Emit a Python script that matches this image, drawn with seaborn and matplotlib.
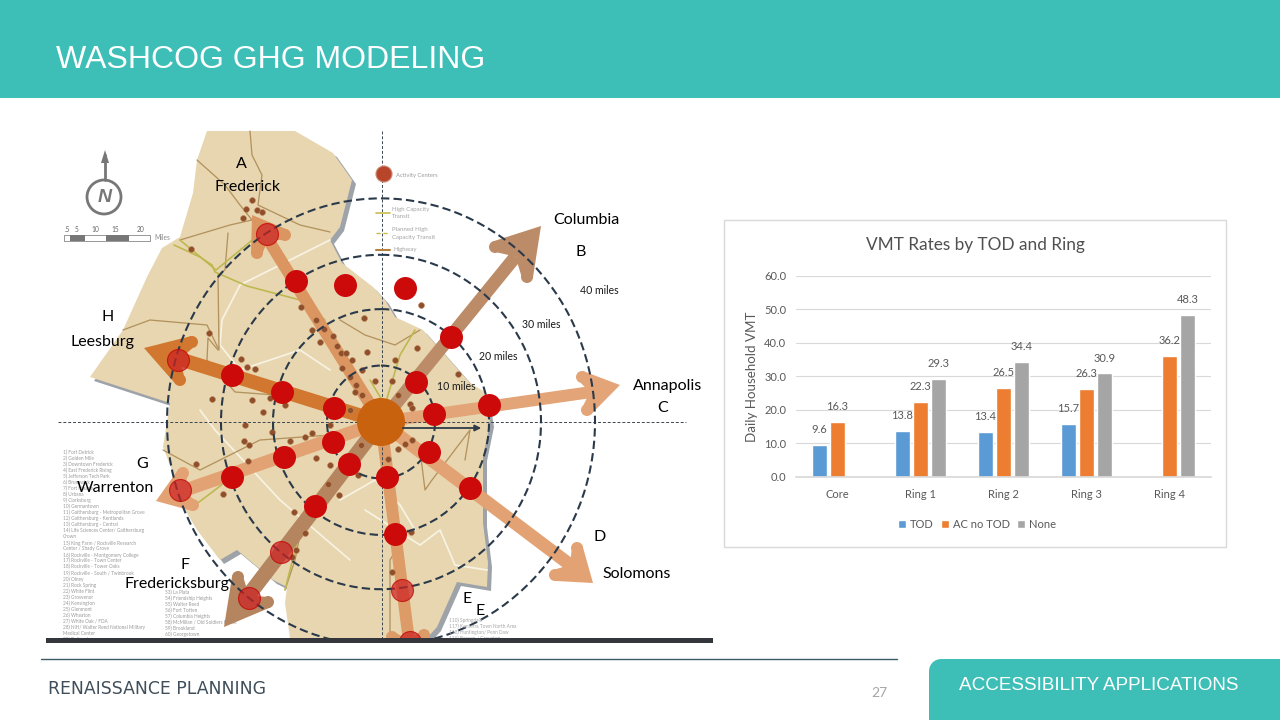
"""
Slide recreation: WashCOG GHG modeling, ring map plus VMT bar chart.
Map layer is drawn in pixel coordinates, the chart is a seaborn barplot.
"""

import numpy as np
import pandas as pd
import matplotlib
matplotlib.use("Agg")
import matplotlib.pyplot as plt
from matplotlib.patches import Circle, Ellipse, Polygon, Rectangle, FancyBboxPatch
import seaborn as sns

# Chart data
RINGS = ["Core", "Ring 1", "Ring 2", "Ring 3", "Ring 4"]
TOD = [9.6, 13.8, 13.4, 15.7, np.nan]
AC_NO_TOD = [16.3, 22.3, 26.5, 26.3, 36.2]
NONE = [np.nan, 29.3, 34.4, 30.9, 48.3]
SERIES_COLORS = ["#5B9BD5", "#ED7D31", "#A5A5A5"]

# Map shapes (image pixels)
LAND = [(207, 131), (295, 131), (333, 153), (352, 180), (340, 227), (330, 240), (342, 263),
        (373, 287), (385, 300), (395, 317), (423, 330), (447, 357), (470, 383), (485, 392),
        (490, 423), (483, 457), (483, 487), (483, 523), (488, 563), (487, 587), (457, 582),
        (437, 627), (427, 638), (290, 638), (285, 603), (287, 587), (273, 580), (237, 550),
        (220, 560), (197, 530), (187, 513), (173, 473), (163, 447), (170, 403), (90, 377),
        (123, 330), (147, 277), (162, 248), (180, 237), (193, 193), (197, 160)]
RING_RADII = [54, 108, 160, 214]
CENTER = (381, 422)
ARROWS = [  # tip, barb 1, barb 2, colour, shaft width
    ((252, 215), (257, 253), (285, 235), "#DB9560", 12),
    ((541, 226), (495, 247), (527, 277), "#BC8C68", 13),
    ((620, 385), (582, 377), (587, 410), "#E3A478", 12),
    ((593, 583), (577, 548), (555, 575), "#E3A273", 13),
    ((414, 665), (392, 637), (424, 635), "#DD9B68", 12),
    ((224, 627), (238, 577), (268, 602), "#B5855F", 15),
    ((156, 501), (183, 473), (193, 505), "#E3A273", 13),
    ((144, 348), (192, 342), (180, 380), "#D2772F", 14),
]
RED_SOLID = [(296, 281), (345, 285), (405, 288), (232, 375), (282, 392), (334, 408),
             (416, 382), (451, 337), (434, 414), (489, 405), (333, 442), (284, 457),
             (232, 477), (349, 464), (315, 506), (387, 477), (429, 452), (470, 488),
             (395, 534)]
RED_FADED = [(267, 234), (178, 360), (180, 490), (281, 552), (249, 598), (402, 590), (410, 642)]
SMALL_DOTS = [(252, 200), (246, 209), (257, 210), (243, 218), (262, 212), (191, 249), (209, 333),
              (301, 307), (316, 320), (324, 329), (312, 330), (333, 336), (320, 342), (337, 346),
              (364, 318), (367, 352), (341, 353), (352, 360), (342, 368), (362, 370), (241, 359),
              (247, 367), (255, 369), (212, 399), (252, 400), (263, 412), (270, 398), (285, 405),
              (245, 425), (244, 441), (249, 445), (248, 461), (272, 432), (305, 437), (312, 433),
              (196, 464), (223, 494), (290, 441), (330, 425), (316, 458), (330, 465), (361, 445),
              (358, 475), (328, 484), (339, 495), (294, 512), (305, 533), (292, 557), (296, 550),
              (412, 440), (405, 444), (398, 449), (388, 459), (411, 532), (392, 572), (421, 305),
              (417, 348), (395, 360), (458, 374), (392, 381), (375, 381), (355, 392), (398, 395),
              (410, 404), (412, 408), (350, 410), (346, 353), (350, 377), (356, 385), (362, 395)]
ROADS = [
    [(250, 131), (252, 155), (262, 175), (258, 205), (300, 225), (330, 232)],
    [(197, 160), (225, 185), (240, 205), (252, 220), (230, 225), (180, 240)],
    [(228, 233), (225, 270), (218, 275), (219, 350), (207, 325), (150, 320), (123, 330)],
    [(218, 350), (208, 338), (207, 360), (235, 392), (275, 395), (320, 405)],
    [(340, 320), (365, 335), (395, 345), (420, 330)],
    [(163, 450), (200, 470), (260, 440), (330, 435), (360, 430)],
    [(420, 450), (425, 490), (432, 480), (470, 430), (465, 460)],
    [(408, 530), (390, 560), (390, 635)],
    [(303, 520), (295, 560), (285, 590)],
]
WHITE_ROADS = [
    [(330, 240), (240, 285), (222, 320), (220, 345), (240, 370), (300, 350), (330, 370)],
    [(200, 410), (215, 430), (280, 500), (350, 560)],
    [(365, 510), (420, 545), (440, 530), (455, 565), (487, 570)],
    [(340, 500), (375, 480), (400, 505), (415, 530)],
]
TRANSIT = [
    [(174, 245), (200, 257), (212, 265), (215, 272), (247, 286), (300, 300), (325, 320)],
    [(180, 240), (216, 270), (256, 237)],
    [(415, 330), (400, 355), (385, 405), (370, 380)],
    [(195, 505), (215, 490), (240, 470)],
    [(300, 530), (290, 570), (285, 590)],
]

# Map labels: text, x, y
CITY_LABELS = [("A", 241, 164), ("Frederick", 248, 187), ("Columbia", 586, 220), ("B", 581, 252),
               ("Annapolis", 668, 386), ("C", 663, 408), ("D", 600, 537), ("Solomons", 637, 574),
               ("E", 467, 599), ("E", 480, 611), ("F", 185, 565), ("Fredericksburg", 177, 584),
               ("G", 142, 464), ("Warrenton", 115, 488), ("H", 108, 317), ("Leesburg", 102, 342)]
MILE_LABELS = [("10 miles", 456, 386), ("20 miles", 498, 357), ("30 miles", 541, 325), ("40 miles", 599, 291)]
LIST_LEFT = ["1) Fort Detrick", "2) Golden Mile", "3) Downtown Frederick", "4) East Frederick Rising",
             "5) Jefferson Tech Park", "6) Brunswick", "7) Fort Meade", "8) Urbana", "9) Clarksburg",
             "10) Germantown", "11) Gaithersburg - Metropolitan Grove", "12) Gaithersburg - Kentlands",
             "13) Gaithersburg - Central", "14) Life Sciences Center/ Gaithersburg", "Crown",
             "15) King Farm / Rockville Research", "Center / Shady Grove", "16) Rockville - Montgomery College",
             "17) Rockville - Town Center", "18) Rockville - Tower Oaks", "19) Rockville - South / Twinbrook",
             "20) Olney", "21) Rock Spring", "22) White Flint", "23) Grosvenor", "24) Kensington",
             "25) Glenmont", "26) Wheaton", "27) White Oak / FDA", "28) NIH/ Walter Reed National Military",
             "Medical Center", "29) Bethesda"]
LIST_MIDDLE = ["53) La Plata", "54) Friendship Heights", "55) Walter Reed", "56) Fort Totten",
               "57) Columbia Heights", "58) McMillan / Old Soldiers Home", "59) Brookland", "60) Georgetown"]
LIST_RIGHT = ["110) Springdale", "117) Konterra Town North Area", "118) Huntington/ Penn Daw", "119) Beacon / Groveton"]

PX = 0.72  # one image pixel in points at dpi 100
TEAL = "#3DBFB8"

sns.set_theme(style="white")
plt.rcParams["font.family"] = ["Lato", "DejaVu Sans"]

fig = plt.figure(figsize=(12.8, 7.2), dpi=100, facecolor="white")
bg = fig.add_axes([0, 0, 1, 1])
bg.set_xlim(0, 1280)
bg.set_ylim(720, 0)
bg.axis("off")


def draw_path(points, color, width, z=2, **kw):
    xs, ys = zip(*points)
    bg.plot(xs, ys, color=color, lw=width * PX, zorder=z, solid_capstyle="round", **kw)


def draw_arrow(tip, barb1, barb2, color, width):
    tip, barb1, barb2 = np.array(tip, float), np.array(barb1, float), np.array(barb2, float)
    mid = (barb1 + barb2) / 2
    corners = []
    for barb in (barb1, barb2):
        d = (barb - tip) / np.linalg.norm(barb - tip)
        n = np.array([-d[1], d[0]])
        if np.dot(n, barb - mid) < 0:
            n = -n
        corners.append((barb + n * 6, barb - n * 6))
    neck = mid + (tip - mid) * 0.15
    bg.plot([CENTER[0], neck[0]], [CENTER[1], neck[1]], color=color, lw=width * PX,
            solid_capstyle="butt", zorder=4)
    outline = [tip, corners[0][0], corners[0][1], neck, corners[1][1], corners[1][0]]
    bg.add_patch(Polygon(outline, closed=True, fc=color, ec="none", zorder=4))
    for barb in (barb1, barb2):
        bg.add_patch(Circle(barb, 6, fc=color, ec="none", zorder=4))


# Header and footer
bg.add_patch(Rectangle((0, 0), 1280, 98, fc=TEAL, ec="none"))
bg.text(56, 60, "WASHCOG GHG MODELING", color="white", fontsize=23, family="Liberation Sans", va="center")
bg.plot([41, 897], [659, 659], color="#3C5A66", lw=1, zorder=9)
bg.text(48, 689, "RENAISSANCE PLANNING", color="#3F4E5A", fontsize=12.4, family="DejaVu Sans", va="center", zorder=9)
bg.text(879, 693, "27", color="#A6A6A6", fontsize=10, ha="center", va="center")
bg.add_patch(FancyBboxPatch((941, 671), 360, 70, boxstyle="round,pad=0,rounding_size=0", fc=TEAL, ec=TEAL, lw=24 * PX,
                            joinstyle="round", zorder=1))
bg.text(1099, 686, "ACCESSIBILITY APPLICATIONS", color="white", fontsize=13.6, family="Liberation Sans",
        ha="center", va="center", zorder=2)

# Map base
bg.add_patch(Polygon(np.array(LAND) + [4, 4], closed=True, fc="#7E858C", ec="none", alpha=0.75, zorder=1))
bg.add_patch(Polygon(LAND, closed=True, fc="#E7D6AF", ec="none", zorder=1.5))
for line in WHITE_ROADS:
    draw_path(line, "#F7F2E2", 1.8)
for line in ROADS:
    draw_path(line, "#B3925E", 1.3)
for line in TRANSIT:
    draw_path(line, "#BDB84E", 1.6)

for tip, b1, b2, col, w in ARROWS:
    draw_arrow(tip, b1, b2, col, w)

xs, ys = zip(*SMALL_DOTS)
bg.scatter(xs, ys, s=18, color="#8F4F2D", edgecolor="#C08A5A", linewidth=0.4, zorder=4.5)

# Crosshair and rings
bg.plot([382, 382], [131, 640], color="#3A4650", lw=0.7, ls=(0, (3, 2)), zorder=5)
bg.plot([58, 686], [422, 422], color="#3A4650", lw=0.7, ls=(0, (3, 2)), zorder=5)
for r in RING_RADII:
    bg.add_patch(Ellipse(CENTER, 2 * r, 2 * r * 1.045, fc="none", ec="#2B3A4A", lw=1.5, ls=(0, (4, 2)), zorder=5))
bg.annotate("", xy=(484, 428), xytext=(400, 428), zorder=7,
            arrowprops=dict(arrowstyle="-|>", color="#2F3C47", lw=1.3, mutation_scale=9))

xs, ys = zip(*RED_SOLID)
bg.scatter(xs, ys, s=(23 * PX) ** 2, color="#CC0A0A", linewidth=0, zorder=6)
xs, ys = zip(*RED_FADED)
bg.scatter(xs, ys, s=(22 * PX) ** 2, color="#CC2222", alpha=0.72, edgecolor="#C00000", linewidth=0.8, zorder=6)
bg.add_patch(Circle(CENTER, 24, fc="#C8620F", ec="none", zorder=6.5))

# Bar at the bottom of the map image, white strip hides whatever runs past it
bg.add_patch(Rectangle((30, 643), 700, 32, fc="white", ec="none", zorder=7))
bg.add_patch(Rectangle((46, 638), 667, 5, fc="#33363A", ec="none", zorder=8))

# North arrow and scale bar
bg.add_patch(Circle((104, 197), 17, fc="none", ec="#777777", lw=2, zorder=3))
bg.plot([105, 105], [180, 155], color="#777777", lw=2, zorder=3)
bg.add_patch(Polygon([(105, 150), (101, 163), (109, 163)], closed=True, fc="#777777", ec="none", zorder=3))
bg.text(105, 197, "N", color="#777777", fontsize=14, fontweight="bold", style="italic",
        family="Liberation Sans", ha="center", va="center", zorder=3)
bg.add_patch(Rectangle((64, 235), 86, 6, fc="white", ec="#888888", lw=0.6, zorder=3))
for x0, x1 in [(70, 85), (106, 129)]:
    bg.add_patch(Rectangle((x0, 235), x1 - x0, 6, fc="#777777", ec="none", zorder=3))
for tick, x in zip([".5", "5", "10", "15", "20"], [67, 77, 95, 115, 141]):
    bg.text(x, 230, tick, fontsize=4.8, color="#666666", ha="center", va="center", zorder=3)
bg.text(154, 238, "Miles", fontsize=4.8, color="#888888", va="center", zorder=3)

# Map key, top centre
bg.add_patch(Circle((384, 174), 8, fc="#B8442A", ec="#C98A78", lw=0.8, zorder=6))
bg.text(396, 175, "Activity Centers", fontsize=4.2, color="#999999", va="center", zorder=6)
bg.plot([376, 390], [213, 213], color="#C9BE4A", lw=1.2, zorder=6)
bg.text(392, 209, "High Capacity", fontsize=4.4, color="#A5A5A5", va="center", zorder=6)
bg.text(392, 217, "Transit", fontsize=4.4, color="#A5A5A5", va="center", zorder=6)
bg.plot([376, 390], [233, 233], color="#C9BE4A", lw=1, ls=(0, (3, 2)), zorder=6)
bg.text(392, 229, "Planned High", fontsize=4.4, color="#A5A5A5", va="center", zorder=6)
bg.text(392, 237, "Capacity Transit", fontsize=4.4, color="#A5A5A5", va="center", zorder=6)
bg.plot([376, 390], [250, 250], color="#B5813E", lw=1.5, zorder=6)
bg.text(394, 250, "Highway", fontsize=4.4, color="#A5A5A5", va="center", zorder=6)

# Activity center lists
for i, name in enumerate(LIST_LEFT):
    bg.text(63, 452 + i * 6.05, name, fontsize=3.4, color="#9A9A9A", va="center", zorder=3)
for i, name in enumerate(LIST_MIDDLE):
    bg.text(165, 592 + i * 6.1, name, fontsize=3.4, color="#9A9A9A", va="center", zorder=3)
for i, name in enumerate(LIST_RIGHT):
    bg.text(449, 620 + i * 6, name, fontsize=3.4, color="#A5A5A5", va="center", zorder=5)

for text, x, y in CITY_LABELS:
    bg.text(x, y, text, fontsize=11.5, color="black", ha="center", va="center", zorder=9)
for text, x, y in MILE_LABELS:
    bg.text(x, y, text, fontsize=7.6, color="#1A1A1A", ha="center", va="center", zorder=9)

# VMT chart panel
bg.add_patch(Rectangle((724, 220), 502, 327, fc="white", ec="#D9D9D9", lw=1, zorder=1))

df = pd.DataFrame({"Ring": RINGS, "TOD": TOD, "AC no TOD": AC_NO_TOD, "None": NONE})
long_df = df.melt(id_vars="Ring", var_name="Type", value_name="VMT")

ax = fig.add_axes([796 / 1280, 1 - 476.7 / 720, 415 / 1280, 200.7 / 720])
ax.patch.set_alpha(0)
sns.barplot(data=long_df, x="Ring", y="VMT", hue="Type", palette=SERIES_COLORS, order=RINGS,
            hue_order=["TOD", "AC no TOD", "None"], width=0.66, gap=0.2, errorbar=None, saturation=1, ax=ax)
ax.set_xlim(-0.5, 4.5)
ax.set_ylim(0, 60)
ax.set_yticks(range(0, 61, 10))
ax.set_yticklabels([f"{v:.1f}" for v in range(0, 61, 10)])
ax.yaxis.grid(True, color="#D9D9D9", lw=0.8)
ax.set_axisbelow(True)
sns.despine(ax=ax, left=True, top=True, right=True)
ax.spines["bottom"].set_color("#D9D9D9")
ax.tick_params(axis="both", length=0, labelsize=8, labelcolor="#595959")
ax.tick_params(axis="x", pad=9)
ax.tick_params(axis="y", pad=7)
ax.set_xlabel("")
ax.set_ylabel("Daily Household VMT", fontsize=9.6, color="#595959", labelpad=4.6)
for container in ax.containers:
    ax.bar_label(container, fmt="%.1f", padding=7, fontsize=8, color="#595959")
ax.legend(loc="upper center", bbox_to_anchor=(0.436, -0.16), ncol=3, frameon=False, fontsize=8,
          handlelength=0.7, handleheight=0.7, handletextpad=0.35, columnspacing=0.7, labelcolor="#595959", title=None)
bg.text(975, 245, "VMT Rates by TOD and Ring", fontsize=12.4, color="#505050", ha="center", va="center", zorder=3)

fig.savefig("out.png", dpi=100)
